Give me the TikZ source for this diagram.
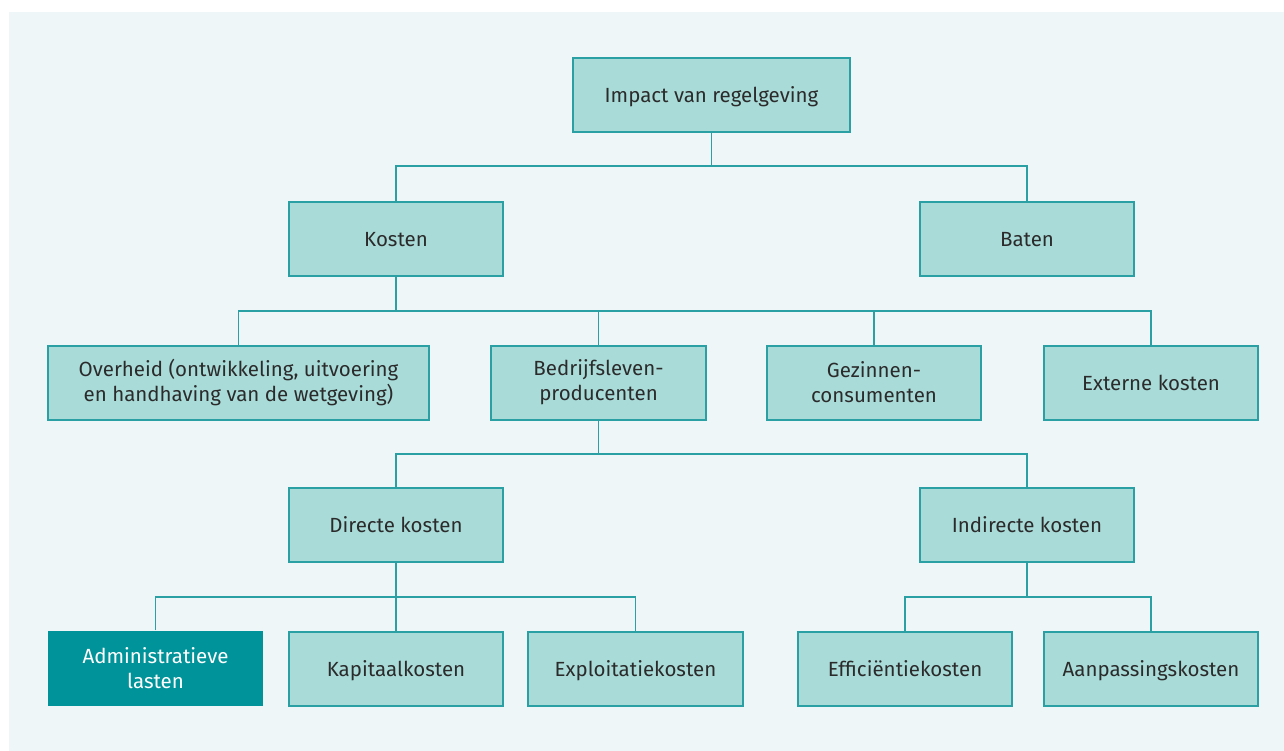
\documentclass[tikz,border=0pt]{standalone}
\usepackage{fontspec}
\setmainfont{Fira Sans}
\definecolor{panel}{HTML}{EEF6F8}
\definecolor{boxfill}{HTML}{A9DCD9}
\definecolor{boxline}{HTML}{2AA0A5}
\definecolor{dark}{HTML}{00949A}
\definecolor{ink}{HTML}{2B2B2B}
\tikzset{
  box/.style={draw=boxline, line width=2pt, fill=boxfill, text=ink,
    minimum height=74pt, inner sep=0pt, align=center,
    font=\fontsize{20.5}{25}\selectfont},
  one/.style={text height=15pt, text depth=0pt},
  hl/.style={box, draw=none, fill=dark, text=white},
  link/.style={draw=boxline, line width=1.6pt},
}
\begin{document}
\begin{tikzpicture}[x=1pt,y=-1pt]
\useasboundingbox (0,0) rectangle (1284,751);
\fill[white] (0,0) rectangle (1284,751);
\fill[panel] (9,12) rectangle (1284,751);

% level 1
\node[box, one, minimum width=277pt] (imp) at (711.5,95.5) {Impact van regelgeving};
% level 2
\node[box, one, minimum width=214pt] (kos) at (396,239) {Kosten};
\node[box, one, minimum width=214pt] (bat) at (1027,239) {Baten};
% level 3
\node[box, minimum width=381pt] (ovh) at (238.5,382.5) {Overheid (ontwikkeling, uitvoering\\en handhaving van de wetgeving)};
\node[box, minimum width=215pt] (bed) at (598.5,382.5) {Bedrijfsleven-\\producenten};
\node[box, minimum width=214pt] (gez) at (874,382.5) {Gezinnen-\\consumenten};
\node[box, one, minimum width=214pt] (ext) at (1151,382.5) {Externe kosten};
% level 4
\node[box, one, minimum width=214pt] (dir) at (396,525) {Directe kosten};
\node[box, one, minimum width=214pt] (ind) at (1027,525) {Indirecte kosten};
% level 5
\node[hl, minimum width=215pt, minimum height=75pt] (adm) at (155.5,668.5) {Administratieve\\lasten};
\node[box, one, minimum width=214pt] (kap) at (396,668.5) {Kapitaalkosten};
\node[box, one, minimum width=215pt] (exp) at (635.5,668.5) {Exploitatiekosten};
\node[box, one, minimum width=214pt] (eff) at (905,668.5) {Efficiëntiekosten};
\node[box, one, minimum width=214pt] (aan) at (1151,668.5) {Aanpassingskosten};

% bus points
\coordinate (b1) at (711.5,166);
\coordinate (b2) at (396,311);
\coordinate (b3) at (598.5,454);
\coordinate (b4) at (396,597);
\coordinate (b5) at (1027,597);

% connectors
\draw[link] (imp.south) -- (b1);
\draw[link] (kos.north) |- (b1) -| (bat.north);

\draw[link] (kos.south) -- (b2);
\draw[link] (ovh.north) |- (b2) -| (bed.north);
\draw[link] (b2) -| (gez.north);
\draw[link] (b2) -| (ext.north);

\draw[link] (bed.south) -- (b3);
\draw[link] (dir.north) |- (b3) -| (ind.north);

\draw[link] (dir.south) -- (b4) -- (kap.north);
\draw[link] (adm.north) |- (b4) -| (exp.north);

\draw[link] (ind.south) -- (b5);
\draw[link] (eff.north) |- (b5) -| (aan.north);
\end{tikzpicture}
\end{document}
